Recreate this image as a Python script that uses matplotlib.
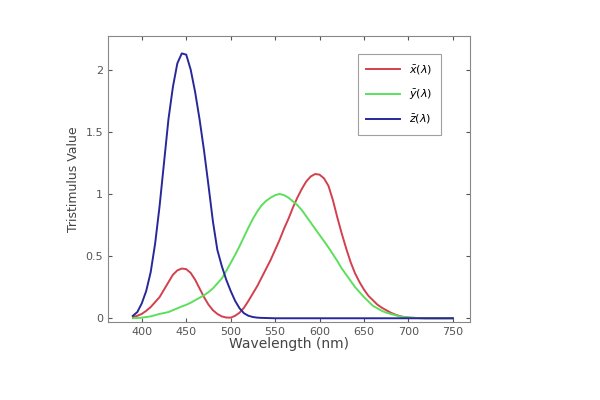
import numpy as np
import matplotlib.pyplot as plt

# wavelength grid (nm)
wl = np.arange(390, 755, 5)

# values
x_bar = [0.01, 0.02, 0.035, 0.06, 0.09, 0.13, 0.17, 0.23, 0.29, 0.35, 0.385, 0.40, 0.395, 0.365,
         0.31, 0.24, 0.17, 0.11, 0.065, 0.035, 0.015, 0.006, 0.005, 0.02, 0.045, 0.085, 0.14, 0.20,
         0.26, 0.33, 0.40, 0.47, 0.55, 0.63, 0.72, 0.80, 0.89, 0.97, 1.04, 1.10, 1.14, 1.16,
         1.155, 1.125, 1.065, 0.95, 0.81, 0.68, 0.56, 0.45, 0.36, 0.29, 0.23, 0.18, 0.145, 0.11,
         0.085, 0.065, 0.045, 0.03, 0.018, 0.01, 0.006, 0.004, 0.002, 0.001, 0, 0, 0, 0, 0, 0, 0]
y_bar = [0.0, 0.002, 0.005, 0.01, 0.015, 0.025, 0.035, 0.042, 0.05, 0.065, 0.08, 0.095, 0.108,
         0.125, 0.145, 0.165, 0.185, 0.21, 0.24, 0.28, 0.32, 0.38, 0.445, 0.51, 0.58, 0.655, 0.73,
         0.80, 0.86, 0.91, 0.945, 0.97, 0.99, 1.0, 0.99, 0.97, 0.94, 0.91, 0.87, 0.82, 0.77, 0.72,
         0.67, 0.62, 0.57, 0.515, 0.46, 0.40, 0.35, 0.30, 0.25, 0.21, 0.17, 0.135, 0.10, 0.08,
         0.06, 0.045, 0.035, 0.025, 0.015, 0.01, 0.006, 0.004, 0.002, 0.001, 0, 0, 0, 0, 0, 0, 0]
z_bar = [0.02, 0.05, 0.12, 0.22, 0.37, 0.60, 0.90, 1.25, 1.60, 1.86, 2.05, 2.13, 2.12, 2.00,
         1.82, 1.60, 1.35, 1.07, 0.78, 0.55, 0.42, 0.31, 0.22, 0.14, 0.08, 0.04, 0.02, 0.01,
         0.005, 0.003, 0.002, 0.001] + [0] * 41

fig = plt.figure(figsize=(6, 4), dpi=100)
ax = fig.add_axes([0.18, 0.195, 0.603, 0.715])

ax.plot(wl, x_bar, color='#d2404e', linewidth=1.4, label=r'$\bar{x}(\lambda)$')
ax.plot(wl, y_bar, color='#5ce05c', linewidth=1.4, label=r'$\bar{y}(\lambda)$')
ax.plot(wl, z_bar, color='#28289a', linewidth=1.4, label=r'$\bar{z}(\lambda)$')

ax.set_xlim(362, 769)
ax.set_ylim(-0.03, 2.27)
ax.set_xticks(np.arange(400, 800, 50))
ax.set_yticks([0, 0.5, 1, 1.5, 2])
ax.set_yticklabels(['0', '0.5', '1', '1.5', '2'])

for s in ax.spines.values():
    s.set_color('#888888')
ax.tick_params(direction='in', top=True, right=True, labelsize=8, colors='#555555', length=3)
ax.set_xlabel('Wavelength (nm)', fontsize=10, color='#444444', labelpad=0)
ax.set_ylabel('Tristimulus Value', fontsize=9, color='#444444')

leg = ax.legend(loc='upper right', bbox_to_anchor=(0.935, 0.955), fontsize=8,
                fancybox=False, handlelength=3, borderpad=0.8, labelspacing=1.0)
leg.get_frame().set_edgecolor('#888888')
leg.get_frame().set_linewidth(0.8)

fig.savefig('out.png', dpi=100)
